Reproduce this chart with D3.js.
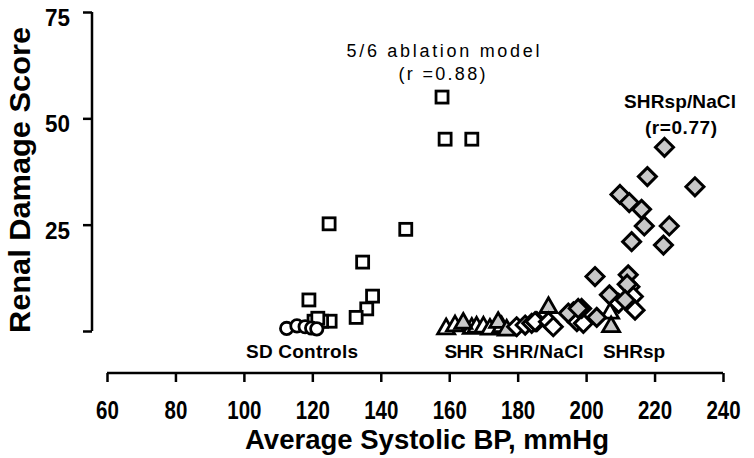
<!DOCTYPE html>
<html><head><meta charset="utf-8">
<script src="https://cdn.jsdelivr.net/npm/d3@7"></script>
<style>
html,body{margin:0;padding:0;background:#fff;}
svg{display:block;font-family:"Liberation Sans",Arial,sans-serif;}
</style></head>
<body><svg id="c" width="754" height="458"></svg>
<script>
// ---- data (x = average systolic BP mmHg, y = renal damage score) ----
const xTicks = [60,80,100,120,140,160,180,200,220,240];
const yTicks = [0,25,50,75];
const sdControls = [[112.5,0.6],[115.5,1.2],[117.9,1.0],[119.8,0.7],[121.3,0.5]];
const ablation = [[157.9,55],[158.8,45.1],[166.6,45.1],[124.9,25.2],[147.3,23.9],[134.7,16.2],
  [119,7.3],[137.6,8.2],[135.9,5.2],[132.8,3.2],[125.2,2.3],[122.7,2.3],[120.5,2.3],[121.6,3.0]];
const shr = [[159.1,0.5],[161.7,1.2],[166.6,0.6],[168,0.9],[170,0.9],[171.9,0.4],[175.3,1.0],[207,4.2]];
const shrsp = [[164.1,1.8],[174.3,2.0],[176.8,0.2],[189,5.5],[207.3,1.0]];
const shrNaCl = [[179.7,1.0],[182.2,1.4],[184.1,1.8],[185.6,2.2],[185.1,2.2],[189,2.2],[190.4,1.0],
  [196.3,4.5],[197.3,2.2],[199.2,1.8],[209.5,6.5],[212.8,10.4],[213.8,8.1],[214.3,4.9]];
const shrspNaCl = [[222.9,43.2],[217.9,36.3],[231.8,33.9],[209.9,32.1],[212.6,30.2],[216.2,28.6],
  [217,24.7],[224.3,24.7],[213.3,21.0],[222.6,20.2],[202.6,12.8],[212.3,13.2],[212,11.0],
  [206.8,8.5],[211.4,7.3],[198.7,5.3],[194.8,4.2],[197.7,5.3],[203.1,3.2]];

const svg = d3.select("#c");
const x = d3.scaleLinear().domain([60,240]).range([107,723]);
const y = d3.scaleLinear().domain([0,75]).range([331,12]);
const GRAY = "#c8c8c8";

// axes
const gx = svg.append("g").attr("transform","translate(0,373)")
  .call(d3.axisBottom(x).tickValues(xTicks).tickSize(9).tickSizeOuter(0).tickFormat(d3.format("d")));
gx.selectAll("text").attr("y",46).attr("dy",null)
  .attr("font-size",26).attr("font-weight","bold").attr("fill","#000")
  .attr("textLength",d=>String(d).length*11.4).attr("lengthAdjust","spacingAndGlyphs");
const gy = svg.append("g").attr("transform","translate(92,0)")
  .call(d3.axisLeft(y).tickValues(yTicks).tickSize(9).tickSizeOuter(0).tickFormat(d=>d===0?"":d));
gy.selectAll("text").attr("x",-22).attr("y",13.5).attr("dy",null)
  .attr("font-size",24).attr("font-weight","bold").attr("fill","#000")
  .attr("textLength",25).attr("lengthAdjust","spacingAndGlyphs");
svg.selectAll(".domain, .tick line").attr("stroke","#000").attr("stroke-width",2.5);
gx.select(".domain").attr("d","M107,0H723");
gy.select(".domain").attr("d","M0,12V331");

// titles
svg.append("text").attr("x",427).attr("y",449).attr("text-anchor","middle")
  .attr("font-size",27).attr("font-weight","bold").attr("textLength",364).attr("lengthAdjust","spacingAndGlyphs")
  .text("Average Systolic BP, mmHg");
svg.append("text").attr("transform","translate(30,180) rotate(-90)").attr("text-anchor","middle")
  .attr("font-size",30).attr("font-weight","bold").attr("textLength",306).attr("lengthAdjust","spacingAndGlyphs")
  .text("Renal Damage Score");

// annotations
function label(t,cx,by,size,weight,len){
  const e = svg.append("text").attr("x",cx).attr("y",by).attr("text-anchor","middle")
    .attr("font-size",size).attr("font-weight",weight).text(t);
  if(len) e.attr("textLength",len).attr("lengthAdjust","spacing");
}
label("5/6 ablation model",443,57,18,"normal",193);
label("(r =0.88)",442,80,18,"normal",87);
label("SHRsp/NaCl",680,108,19,"bold",112);
label("(r=0.77)",681,134,19,"bold",72);
label("SD Controls",302,358,19,"bold",112);
label("SHR",464,358,19,"bold",39);
label("SHR/NaCl",538,358,19,"bold",91);
label("SHRsp",634,358,19,"bold",62);

// markers
const sw = 2.8;
svg.append("g").selectAll("rect").data(ablation).join("rect")
  .attr("x",d=>x(d[0])-6).attr("y",d=>y(d[1])-6).attr("width",12).attr("height",12)
  .attr("fill","#fff").attr("stroke","#000").attr("stroke-width",sw);
svg.append("g").selectAll("circle").data(sdControls).join("circle")
  .attr("cx",d=>x(d[0])).attr("cy",d=>y(d[1])).attr("r",6.2)
  .attr("fill","#fff").attr("stroke","#000").attr("stroke-width",sw);
const tri = d3.symbol().type(d3.symbolTriangle).size(125);
function tris(data,fill){
  svg.append("g").selectAll("path").data(data).join("path")
    .attr("d",tri).attr("transform",d=>`translate(${x(d[0])},${y(d[1])})`)
    .attr("fill",fill).attr("stroke","#000").attr("stroke-width",sw).attr("stroke-linejoin","miter");
}
const diamondPath = "M0,-9L9,0L0,9L-9,0Z";
function dias(data,fill){
  svg.append("g").selectAll("path").data(data).join("path")
    .attr("d",diamondPath).attr("transform",d=>`translate(${x(d[0])},${y(d[1])})`)
    .attr("fill",fill).attr("stroke","#000").attr("stroke-width",3);
}
tris(shr,"#fff");
tris(shrsp,GRAY);
dias(shrNaCl,"#fff");
dias(shrspNaCl,GRAY);
</script></body></html>
